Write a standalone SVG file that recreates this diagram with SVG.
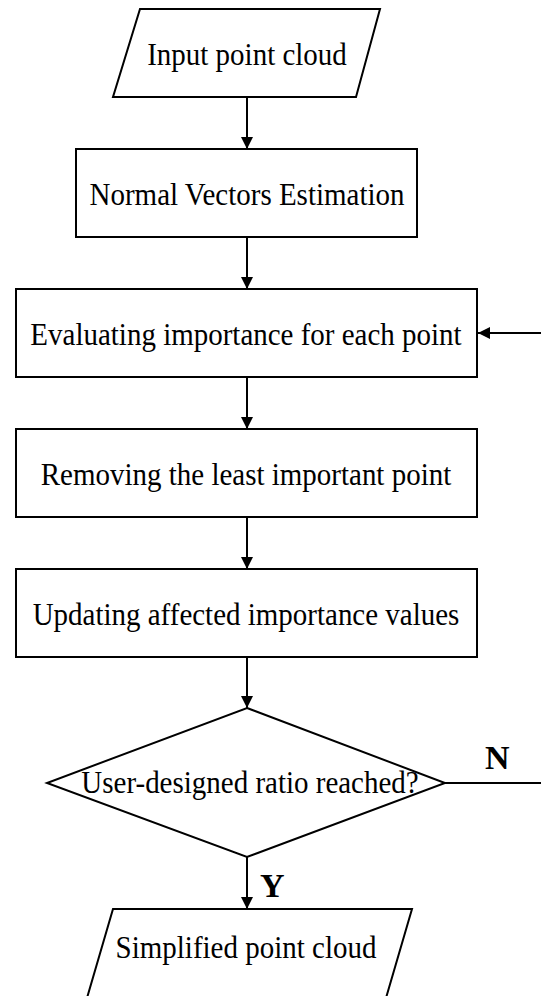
<svg xmlns="http://www.w3.org/2000/svg" width="541" height="996" viewBox="0 0 541 996">
<style>
.s{fill:#fff;stroke:#000;stroke-width:2}
.t{font-family:"Liberation Serif","Times New Roman",serif;font-size:29px;fill:#000;text-anchor:middle}
.l{font-family:"Liberation Serif","Times New Roman",serif;font-size:34px;font-weight:bold;fill:#000}
.c{fill:none;stroke:#000;stroke-width:2}
</style>
<defs>
<marker id="ah" viewBox="0 0 12 12" refX="12" refY="6" markerWidth="12" markerHeight="12" markerUnits="userSpaceOnUse" orient="auto">
<path d="M0,0 L12,6 L0,12 Z" fill="#000"/>
</marker>
</defs>
<rect width="541" height="996" fill="#fff"/>
<g id="input">
<polygon class="s" points="140,9 380,9 356,97 113,97"/>
<text class="t" transform="translate(247,65) scale(1,1.12)">Input point cloud</text>
</g>
<g id="normal">
<rect class="s" x="76" y="149" width="341" height="88"/>
<text class="t" transform="translate(247,205) scale(1,1.12)">Normal Vectors Estimation</text>
</g>
<g id="evaluate">
<rect class="s" x="16" y="289" width="461" height="88"/>
<text class="t" transform="translate(246,345) scale(1,1.12)">Evaluating importance for each point</text>
</g>
<g id="remove">
<rect class="s" x="16" y="429" width="461" height="88"/>
<text class="t" transform="translate(246,485) scale(1,1.12)">Removing the least important point</text>
</g>
<g id="update">
<rect class="s" x="16" y="569" width="461" height="88"/>
<text class="t" transform="translate(246,625) scale(1,1.12)">Updating affected importance values</text>
</g>
<g id="decision">
<polygon class="s" points="247,708 445,783 247,857 47,783"/>
<text class="t" transform="translate(250,793) scale(1,1.12)">User-designed ratio reached?</text>
</g>
<g id="output">
<polygon class="s" points="113,909 412,909 386,998 87,998"/>
<text class="t" transform="translate(246,958) scale(1,1.12)">Simplified point cloud</text>
</g>
<g id="connectors">
<line class="c" x1="247" y1="97" x2="247" y2="149" marker-end="url(#ah)"/>
<line class="c" x1="247" y1="237" x2="247" y2="289" marker-end="url(#ah)"/>
<line class="c" x1="247" y1="377" x2="247" y2="429" marker-end="url(#ah)"/>
<line class="c" x1="247" y1="517" x2="247" y2="569" marker-end="url(#ah)"/>
<line class="c" x1="247" y1="657" x2="247" y2="708" marker-end="url(#ah)"/>
<line class="c" x1="247" y1="857" x2="247" y2="909" marker-end="url(#ah)"/>
<path class="c" d="M445,783 H545 V333 H478" marker-end="url(#ah)"/>
<text class="l" x="485" y="769">N</text>
<text class="l" x="260" y="897">Y</text>
</g>
</svg>
